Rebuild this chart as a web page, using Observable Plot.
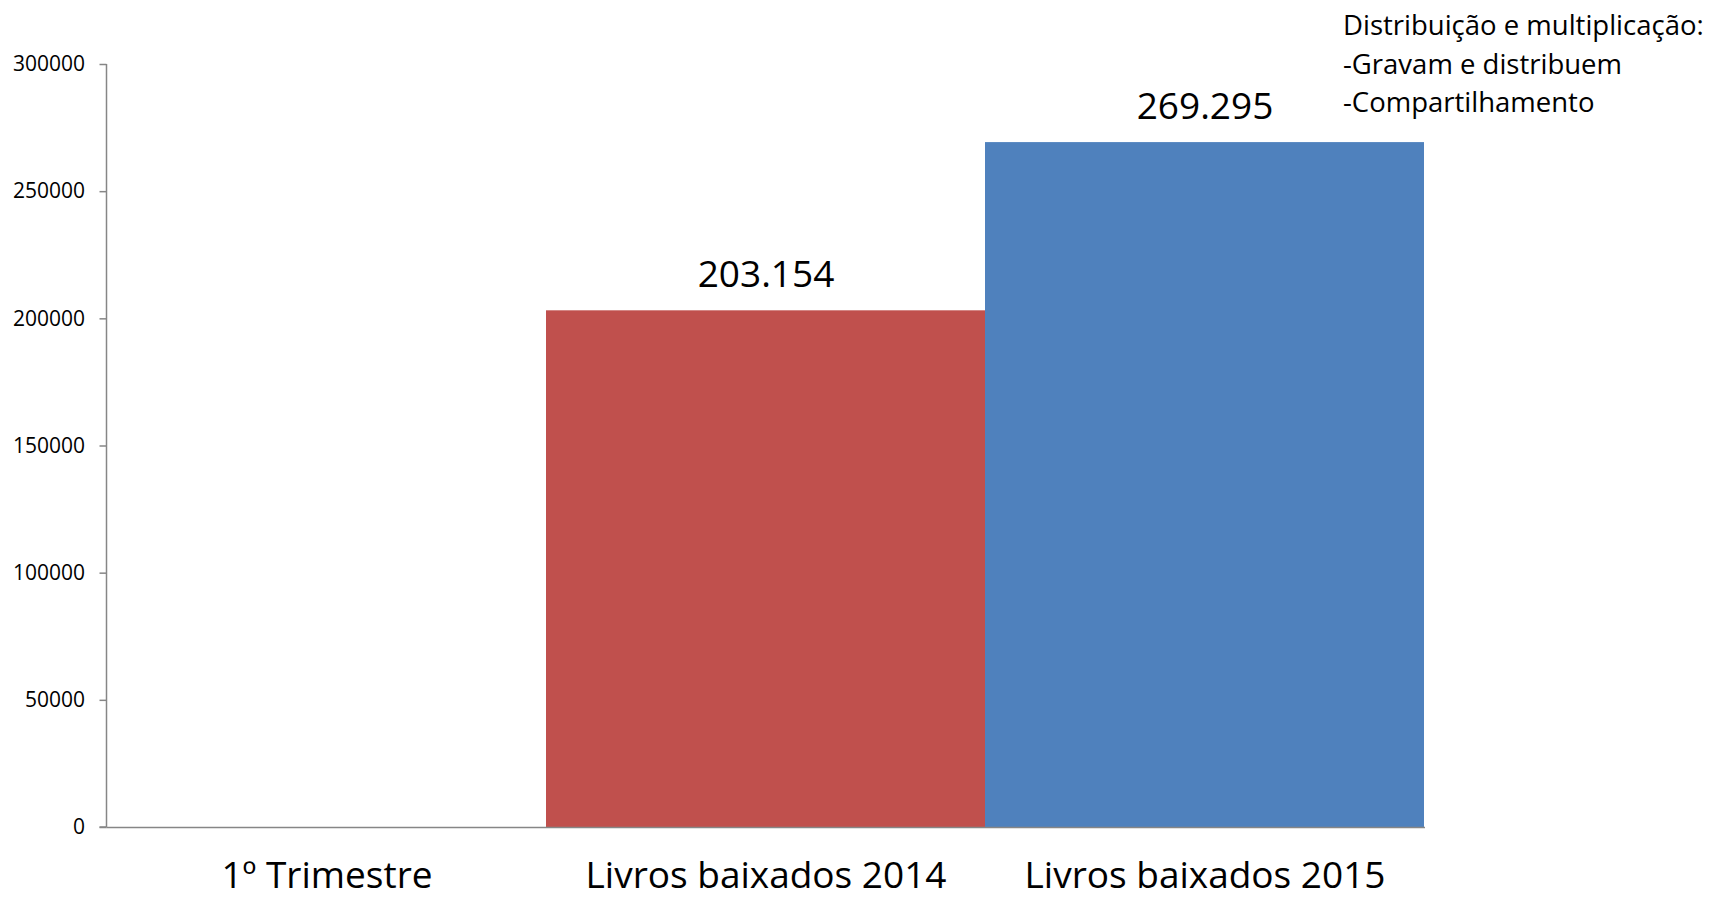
<!DOCTYPE html>
<html>
<head>
<meta charset="utf-8">
<script src="https://cdn.jsdelivr.net/npm/d3@7"></script>
<script src="https://cdn.jsdelivr.net/npm/@observablehq/plot@0.6"></script>
<style>
  html, body { margin: 0; padding: 0; background: #fff; }
  #wrap { position: relative; width: 1715px; height: 898px; font-family: "Open Sans", sans-serif; }
  #note { position: absolute; left: 1343px; top: 6px; font-size: 27.5px; line-height: 38.5px; color: #000; white-space: nowrap; }
</style>
</head>
<body>
<div id="wrap">
  <div id="chart"></div>
  <div id="note">Distribuição e multiplicação:<br>-Gravam e distribuem<br>-Compartilhamento</div>
</div>
<script>
const categories = ["1º Trimestre", "Livros baixados 2014", "Livros baixados 2015"];
const values = [0, 203154, 269295];
const valueLabels = ["", "203.154", "269.295"];
const barColors = ["#ffffff", "#C0504D", "#4F81BD"];
const yTicks = [0, 50000, 100000, 150000, 200000, 250000, 300000];

const data = categories.map((c, i) => ({category: c, value: values[i], label: valueLabels[i], color: barColors[i]}));
const axisGrey = "#868686";

const plot = Plot.plot({
  width: 1715,
  height: 898,
  marginLeft: 106.5,
  marginRight: 290,
  marginTop: 64,
  marginBottom: 71,
  style: {fontFamily: "Open Sans, sans-serif", background: "#fff", color: "#000"},
  x: {domain: categories, padding: 0, axis: null},
  y: {domain: [0, 300000], axis: null},
  marks: [
    Plot.barY(data.filter(d => d.value > 0), {x: "category", y: "value", fill: "color"}),
    Plot.text(data.filter(d => d.value > 0), {x: "category", y: "value", text: "label", dy: -24, fontSize: 37, fill: "#000", lineAnchor: "bottom"}),
    Plot.axisY({ticks: yTicks, tickFormat: d => String(d), tickSize: 7, tickPadding: 15, fontSize: 21, stroke: axisGrey, strokeWidth: 1.5, fill: "#000", label: null}),
    Plot.axisX({tickSize: 0, tickPadding: 34, fontSize: 37, fill: "#000", label: null}),
    Plot.ruleY([0], {stroke: axisGrey, strokeWidth: 1.5})
  ]
});
document.getElementById("chart").appendChild(plot);

// vertical y-axis line drawn from the y scale
const ys = plot.scale("y");
const xs = plot.scale("x");
const svg = d3.select(plot);
svg.append("line")
  .attr("x1", xs.range[0]).attr("x2", xs.range[0])
  .attr("y1", ys.range[0]).attr("y2", ys.range[1])
  .attr("stroke", axisGrey).attr("stroke-width", 1.5);
svg.append("line")
  .attr("x1", xs.range[0] - 7).attr("x2", xs.range[0])
  .attr("y1", ys.range[0]).attr("y2", ys.range[0])
  .attr("stroke", axisGrey).attr("stroke-width", 1.5);
</script>
</body>
</html>
